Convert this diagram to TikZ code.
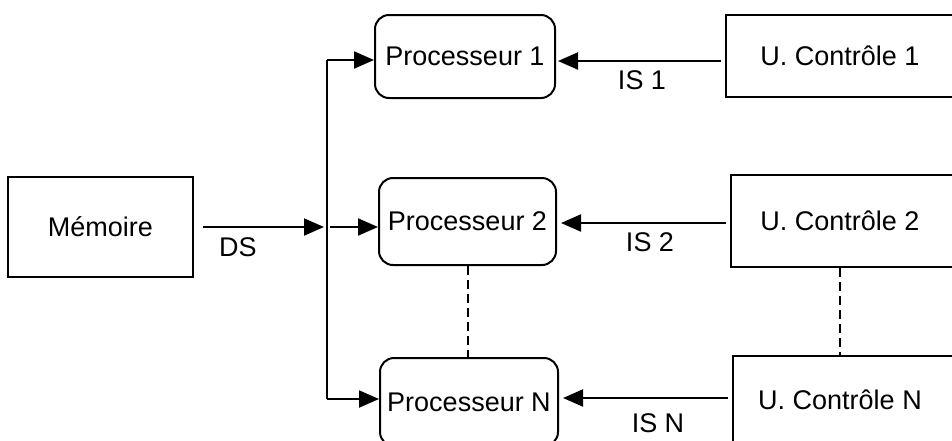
\documentclass[tikz,border=0pt]{standalone}
\usepackage{fontspec}
\setmainfont{Liberation Sans}
\usetikzlibrary{arrows.meta}
\begin{document}
\begin{tikzpicture}[x=1pt,y=-1pt,
  every node/.style={font=\fontsize{27}{32}\selectfont},
  box/.style={draw, line width=2pt, inner sep=0pt},
  proc/.style={box, rounded corners=14pt},
  link/.style={line width=2pt, -{Triangle[length=20pt,width=17pt]}},
  dashlink/.style={line width=2pt, dash pattern=on 9pt off 5pt},
  lbl/.style={inner sep=0pt}]
\clip (0,0) rectangle (952,440);

% memory, processors and control units (control units run past the right edge)
\node[box, minimum width=185pt, minimum height=100pt] (mem) at (100.5,227) {Mémoire};
\node[proc, minimum width=180pt, minimum height=83pt] (p1) at (465,56.5) {Processeur 1};
\node[proc, minimum width=177pt, minimum height=87pt] (p2) at (467.5,221.5) {Processeur 2};
\node[proc, minimum width=178pt, minimum height=88pt] (pn) at (469,402) {Processeur N};
\node[box, minimum width=250pt, minimum height=82pt] (u1) at (851,56) {\hspace*{-22pt}U. Contrôle 1};
\node[box, minimum width=250pt, minimum height=92pt] (u2) at (856,221) {\hspace*{-32pt}U. Contrôle 2};
\node[box, minimum width=250pt, minimum height=88pt] (un) at (858,400) {\hspace*{-36pt}U. Contrôle N};

% data bus
\coordinate (bt) at (327,60);
\coordinate (bm) at (327,227);
\coordinate (bb) at (327,399);
\draw[line width=2pt] (bt) -- (bb);
\draw[link, shorten <=9pt, shorten >=3pt] (mem.east) -- (bm);
\draw[link] (bt) -- (p1.west |- bt);
\draw[link, shorten <=3pt] (bm) -- (p2.west |- bm);
\draw[link] (bb) -- (pn.west |- bb);

% instruction streams
\coordinate (r1) at (0,61);
\coordinate (r2) at (0,223);
\coordinate (rn) at (0,398);
\draw[link, shorten <=4pt, shorten >=2pt] (u1.west |- r1) -- (p1.east |- r1);
\draw[link, shorten <=4pt, shorten >=4pt] (u2.west |- r2) -- (p2.east |- r2);
\draw[link, shorten <=4pt, shorten >=4pt] (un.west |- rn) -- (pn.east |- rn);

% stream labels
\node[lbl] (ds) at (238,247) {DS};
\node[lbl] (is1) at (642,80) {IS 1};
\node[lbl] (is2) at (650,242) {IS 2};
\node[lbl] (isn) at (658,423) {IS N};

% omitted units
\coordinate (ux) at (840,0);
\draw[dashlink] (p2.south) -- (p2.south |- pn.north);
\draw[dashlink] (ux |- u2.south) -- (ux |- un.north);
\end{tikzpicture}
\end{document}
